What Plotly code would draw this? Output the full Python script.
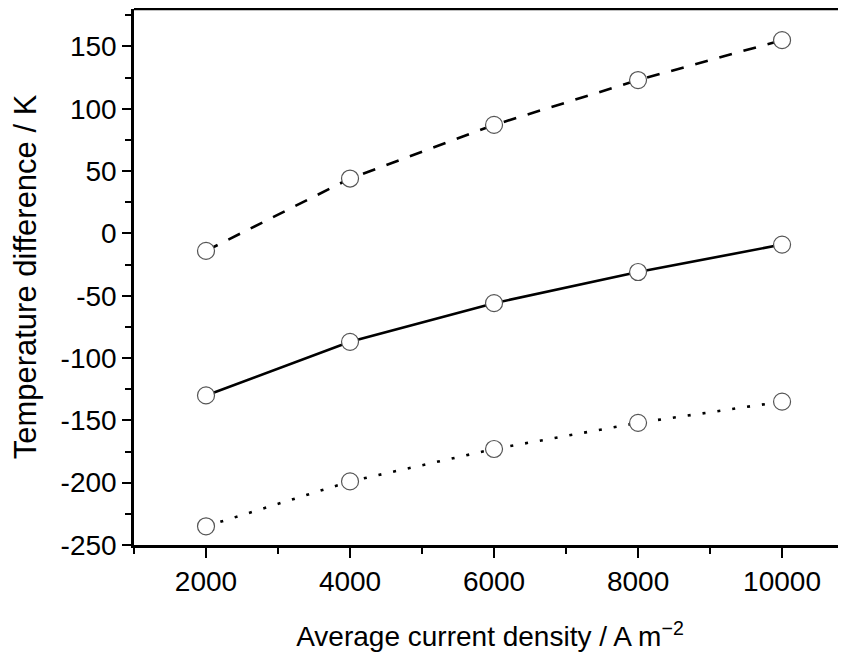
import plotly.graph_objects as go

current_density = [2000, 4000, 6000, 8000, 10000]
dashed_values = [-14, 44, 87, 123, 155]
solid_values = [-130, -87, -56, -31, -9]
dotted_values = [-235, -199, -173, -152, -135]

y_tick_vals = [-250, -200, -150, -100, -50, 0, 50, 100, 150]
y_tick_text = ["-250", "-200", "-150", "-100", "-50", "0", "50", "100", "150"]
x_tick_vals = [2000, 4000, 6000, 8000, 10000]
x_tick_text = ["2000", "4000", "6000", "8000", "10000"]

FONT = "Liberation Sans, Arial, sans-serif"

fig = go.Figure()
for vals, dash in [(dashed_values, "13px,12px"), (solid_values, "solid"), (dotted_values, "3px,12px")]:
    fig.add_trace(go.Scatter(
        x=current_density, y=vals, mode="lines+markers",
        line=dict(color="black", width=2.6, dash=dash),
        marker=dict(symbol="circle", size=17, color="white",
                    line=dict(color="#555555", width=1.2)),
        showlegend=False,
    ))

fig.add_shape(type="line", xref="paper", yref="paper", x0=0, x1=1, y0=1, y1=1,
              line=dict(color="black", width=2.5))

# page body has an 8px default margin, so the figure is 8px smaller
fig.update_layout(
    width=838, height=648,
    margin=dict(l=126, r=0, t=1, b=111),
    plot_bgcolor="white", paper_bgcolor="white",
    font=dict(family=FONT, size=28, color="black"),
    xaxis=dict(
        range=[1000, 10888], automargin=False,
        tickvals=x_tick_vals, ticktext=x_tick_text,
        ticks="outside", ticklen=10, tickwidth=2, tickcolor="black",
        tickfont=dict(size=28),
        minor=dict(dtick=1000, tick0=1000, ticks="outside", ticklen=6, tickwidth=2, tickcolor="black"),
        showline=True, linecolor="black", linewidth=2.5,
        showgrid=False, zeroline=False,
        title=dict(text="Average current density / A m<sup>\u22122</sup>", standoff=31,
                   font=dict(size=28)),
    ),
    yaxis=dict(
        range=[-250, 180], automargin=False,
        tickvals=y_tick_vals, ticktext=y_tick_text,
        ticks="outside", ticklen=9, tickwidth=2, tickcolor="black",
        tickfont=dict(size=28),
        minor=dict(dtick=25, tick0=0, ticks="outside", ticklen=6, tickwidth=2, tickcolor="black"),
        showline=True, linecolor="black", linewidth=2.5,
        showgrid=False, zeroline=False,
        title=dict(text="Temperature difference / K", standoff=20, font=dict(size=31)),
    ),
)

fig.write_html("out.html")
